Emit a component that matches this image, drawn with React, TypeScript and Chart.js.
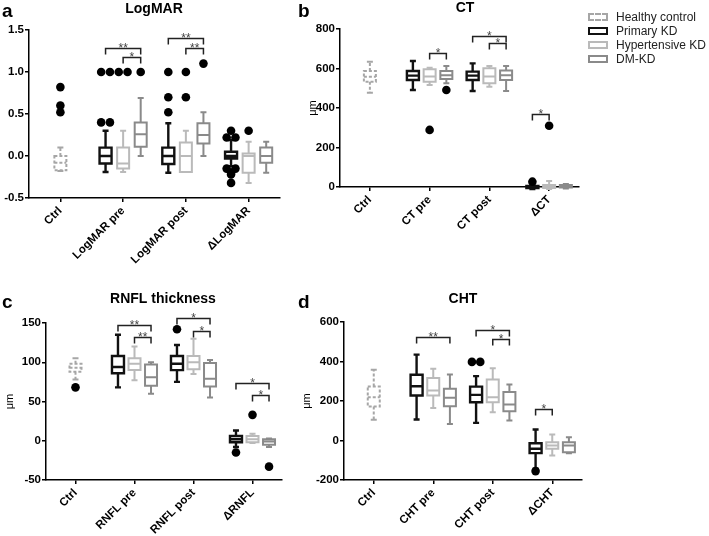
import React, { useEffect, useRef } from "react";
import { Chart, registerables } from "chart.js";

Chart.register(...registerables);

const FONT = "'Liberation Sans', Arial, Helvetica, sans-serif";
Chart.defaults.font.family = FONT;

const COLORS = { healthy: "#a6a6a6", primary: "#111111", hyper: "#bababa", dm: "#8a8a8a" };
const GROUP_OFFSET = { primary: -0.28, hyper: 0, dm: 0.28 };

// ---------- Panel a: LogMAR ----------
const A_CATEGORIES = ["Ctrl", "LogMAR pre", "LogMAR post", "\u0394LogMAR"];
const A_Y_TICKS = [-0.5, 0, 0.5, 1.0, 1.5];
// five-number summaries [min, q1, median, q3, max]
const A_HEALTHY = [-0.18, -0.17, -0.08, 0.0, 0.1];
const A_PRIMARY = [[-0.19, -0.09, 0, 0.1, 0.3], [-0.2, -0.095, 0, 0.1, 0.39], [-0.12, -0.03, 0, 0.05, 0.19]];
const A_HYPER = [[-0.19, -0.15, -0.09, 0.1, 0.3], [-0.19, -0.19, 0, 0.16, 0.3], [-0.32, -0.2, 0, 0.03, 0.17]];
const A_DM = [[0, 0.11, 0.26, 0.4, 0.69], [0, 0.15, 0.25, 0.39, 0.52], [-0.2, -0.08, 0, 0.1, 0.17]];
const A_OUT_HEALTHY = [0.82, 0.6, 0.52];
const A_OUT_PRIMARY = [[0.4, 0.4, 1, 1], [0.52, 0.7, 1], [0.3, 0.22, 0.22, -0.15, -0.15, -0.2, -0.22, -0.32]];
const A_OUT_HYPER = [[1, 1], [0.7, 1], [0.3]];
const A_OUT_DM = [[1], [1.1], []];
const A_BRACKETS = [
  { cat: 1, from: "primary", to: "dm", y: 1.29, label: "**" },
  { cat: 1, from: "hyper", to: "dm", y: 1.175, label: "*" },
  { cat: 2, from: "primary", to: "dm", y: 1.4, label: "**" },
  { cat: 2, from: "hyper", to: "dm", y: 1.28, label: "**" },
];

// ---------- Panel b: CT ----------
const B_CATEGORIES = ["Ctrl", "CT pre", "CT post", "\u0394CT"];
const B_Y_TICKS = [0, 200, 400, 600, 800];
const B_HEALTHY = [477, 533, 558, 587, 634];
const B_PRIMARY = [[491, 542, 564, 587, 638], [486, 542, 564, 584, 626], [-10, -5, 0, 5, 15]];
const B_HYPER = [[516, 533, 560, 596, 604], [508, 525, 560, 601, 613], [-10, -5, 0, 10, 30]];
const B_DM = [[525, 547, 566, 587, 613], [486, 542, 566, 590, 613], [-8, -3, 3, 10, 15]];
const B_OUT_HEALTHY: number[] = [];
const B_OUT_PRIMARY = [[], [], [27]];
const B_OUT_HYPER = [[289], [], [310]];
const B_OUT_DM = [[491], [], []];
const B_BRACKETS = [
  { cat: 1, from: "hyper", to: "dm", y: 677, label: "*" },
  { cat: 2, from: "primary", to: "dm", y: 766, label: "*" },
  { cat: 2, from: "hyper", to: "dm", y: 728, label: "*" },
  { cat: 3, from: "primary", to: "hyper", y: 370, label: "*" },
];

// ---------- Panel c: RNFL thickness ----------
const C_CATEGORIES = ["Ctrl", "RNFL pre", "RNFL post", "\u0394RNFL"];
const C_Y_TICKS = [-50, 0, 50, 100, 150];
const C_HEALTHY = [78, 88, 93, 98, 105];
const C_PRIMARY = [[68, 86, 94, 108, 135], [75, 90, 98, 108, 122], [-8, -2, 2, 6, 13]];
const C_HYPER = [[77, 90, 98, 105, 120], [85, 91, 100, 108, 130], [-3, -2, 2, 6, 9]];
const C_DM = [[60, 70, 81, 97, 100], [55, 69, 79, 99, 103], [-8, -5, -1, 2, 3]];
const C_OUT_HEALTHY = [68];
const C_OUT_PRIMARY = [[], [142], [-15]];
const C_OUT_HYPER = [[], [], [33]];
const C_OUT_DM = [[], [], [-33]];
const C_BRACKETS = [
  { cat: 1, from: "primary", to: "dm", y: 147, label: "**" },
  { cat: 1, from: "hyper", to: "dm", y: 132, label: "**" },
  { cat: 2, from: "primary", to: "dm", y: 157, label: "*" },
  { cat: 2, from: "hyper", to: "dm", y: 140, label: "*" },
  { cat: 3, from: "primary", to: "dm", y: 73, label: "*" },
  { cat: 3, from: "hyper", to: "dm", y: 58, label: "*" },
];

// ---------- Panel d: CHT ----------
const D_CATEGORIES = ["Ctrl", "CHT pre", "CHT post", "\u0394CHT"];
const D_Y_TICKS = [-200, 0, 200, 400, 600];
const D_HEALTHY = [105, 172, 219, 273, 358];
const D_PRIMARY = [[106, 228, 275, 333, 435], [89, 194, 231, 273, 326], [-143, -64, -42, -14, 56]];
const D_HYPER = [[164, 228, 253, 317, 363], [143, 194, 219, 309, 366], [-76, -42, -25, -9, 30]];
const D_DM = [[84, 174, 216, 262, 334], [101, 148, 182, 245, 283], [-64, -59, -25, -9, 17]];
const D_OUT_HEALTHY: number[] = [];
const D_OUT_PRIMARY = [[], [398, 398], [-155]];
const D_OUT_HYPER = [[], [], []];
const D_OUT_DM = [[], [], []];
const D_BRACKETS = [
  { cat: 1, from: "primary", to: "dm", y: 523, label: "**" },
  { cat: 2, from: "primary", to: "dm", y: 560, label: "*" },
  { cat: 2, from: "hyper", to: "dm", y: 515, label: "*" },
  { cat: 3, from: "primary", to: "hyper", y: 160, label: "*" },
];

const LEGEND = [
  { label: "Healthy control", color: COLORS.healthy, dashed: true, width: 2 },
  { label: "Primary KD", color: COLORS.primary, dashed: false, width: 2.5 },
  { label: "Hypertensive KD", color: COLORS.hyper, dashed: false, width: 2 },
  { label: "DM-KD", color: COLORS.dm, dashed: false, width: 2 },
];

const boxPlugin = {
  id: "boxes",
  beforeDatasetsDraw(chart: any, _a: any, opts: any) {
    const { ctx, scales } = chart;
    const xs = scales.x, ys = scales.y;
    for (const b of opts.items || []) {
      const cx = xs.getPixelForValue(b.x);
      const [mn, q1, md, q3, mx] = b.q.map((v: number) => ys.getPixelForValue(v));
      const hw = 6, cw = 3;
      ctx.save();
      ctx.strokeStyle = b.color;
      ctx.lineWidth = b.lw;
      ctx.setLineDash(b.dash || []);
      ctx.beginPath();
      ctx.rect(cx - hw, q3, 2 * hw, q1 - q3);
      ctx.moveTo(cx - hw, md); ctx.lineTo(cx + hw, md);
      ctx.moveTo(cx, q3); ctx.lineTo(cx, mx);
      ctx.moveTo(cx, q1); ctx.lineTo(cx, mn);
      ctx.stroke();
      ctx.setLineDash([]);
      ctx.beginPath();
      ctx.moveTo(cx - cw, mx); ctx.lineTo(cx + cw, mx);
      ctx.moveTo(cx - cw, mn); ctx.lineTo(cx + cw, mn);
      ctx.stroke();
      ctx.restore();
    }
  },
};

const bracketPlugin = {
  id: "brackets",
  afterDraw(chart: any, _a: any, opts: any) {
    const { ctx, scales } = chart;
    const xs = scales.x, ys = scales.y;
    ctx.save();
    ctx.strokeStyle = "#222";
    ctx.fillStyle = "#444";
    ctx.lineWidth = 1.5;
    ctx.font = `12px ${FONT}`;
    ctx.textAlign = "center";
    ctx.textBaseline = "alphabetic";
    for (const b of opts.items || []) {
      const x1 = xs.getPixelForValue(b.x1), x2 = xs.getPixelForValue(b.x2);
      const yy = Math.round(ys.getPixelForValue(b.y)) + 0.5;
      ctx.beginPath();
      ctx.moveTo(x1, yy + 6); ctx.lineTo(x1, yy); ctx.lineTo(x2, yy); ctx.lineTo(x2, yy + 6);
      ctx.stroke();
      ctx.fillText(b.label, (x1 + x2) / 2, yy + 3);
    }
    ctx.restore();
  },
};

const labelPlugin = {
  id: "panelLabels",
  afterDraw(chart: any, _a: any, opts: any) {
    const { ctx } = chart;
    ctx.save();
    ctx.fillStyle = "#000";
    ctx.textBaseline = "middle";
    ctx.font = `bold 19px ${FONT}`;
    ctx.textAlign = "left";
    ctx.fillText(opts.letter, opts.letterX, opts.letterY);
    ctx.font = `bold 14px ${FONT}`;
    ctx.textAlign = "center";
    ctx.fillText(opts.title, opts.titleX, opts.titleY);
    ctx.restore();
  },
};

function spread(values: number[], cx: number, out: { x: number; y: number }[]) {
  const counts: Record<string, number> = {};
  values.forEach((v) => (counts[v] = (counts[v] || 0) + 1));
  const seen: Record<string, number> = {};
  values.forEach((v) => {
    const n = counts[v];
    const k = seen[v] || 0;
    seen[v] = k + 1;
    out.push({ x: cx + (k - (n - 1) / 2) * 0.14, y: v });
  });
}

function buildChart(canvas: HTMLCanvasElement, p: any) {
  const items: any[] = [];
  items.push({ x: 0, q: p.healthy, color: COLORS.healthy, lw: 2, dash: [3, 2] });
  p.primary.forEach((q: number[], i: number) => items.push({ x: i + 1 + GROUP_OFFSET.primary, q, color: COLORS.primary, lw: 2.4 }));
  p.hyper.forEach((q: number[], i: number) => items.push({ x: i + 1 + GROUP_OFFSET.hyper, q, color: COLORS.hyper, lw: 2 }));
  p.dm.forEach((q: number[], i: number) => items.push({ x: i + 1 + GROUP_OFFSET.dm, q, color: COLORS.dm, lw: 2 }));

  const pts: { x: number; y: number }[] = [];
  spread(p.outHealthy, 0, pts);
  p.outPrimary.forEach((v: number[], i: number) => spread(v, i + 1 + GROUP_OFFSET.primary, pts));
  p.outHyper.forEach((v: number[], i: number) => spread(v, i + 1 + GROUP_OFFSET.hyper, pts));
  p.outDm.forEach((v: number[], i: number) => spread(v, i + 1 + GROUP_OFFSET.dm, pts));

  const brackets = p.brackets.map((b: any) => ({
    x1: b.cat + (GROUP_OFFSET as any)[b.from],
    x2: b.cat + (GROUP_OFFSET as any)[b.to],
    y: b.y,
    label: b.label,
  }));

  const tickFont = { family: FONT, size: 11.5, weight: "bold" as const };
  const yTicks: number[] = p.yTicks;

  return new Chart(canvas, {
    type: "scatter",
    data: {
      datasets: [
        {
          data: pts,
          pointRadius: 4.3,
          pointHoverRadius: 4.3,
          backgroundColor: "#000",
          borderWidth: 0,
          clip: false as any,
        },
      ],
    },
    options: {
      animation: false,
      responsive: false,
      maintainAspectRatio: false,
      events: [],
      layout: { padding: { top: p.padTop, left: 0, right: p.padRight, bottom: 0 } },
      plugins: {
        legend: { display: false },
        tooltip: { enabled: false },
        boxes: { items } as any,
        brackets: { items: brackets } as any,
        panelLabels: p.labels as any,
      } as any,
      scales: {
        x: {
          type: "linear",
          min: -0.5,
          max: 3.5,
          afterBuildTicks: (s: any) => {
            s.ticks = [0, 1, 2, 3].map((v) => ({ value: v }));
          },
          afterFit: (s: any) => {
            s.height = p.xHeight;
          },
          grid: { drawOnChartArea: false, drawTicks: true, tickLength: 4, color: "#000", lineWidth: 1.5 },
          border: { color: "#000", width: 1.5 },
          ticks: {
            autoSkip: false,
            minRotation: 45,
            maxRotation: 45,
            padding: 2,
            color: "#000",
            font: tickFont,
            callback: (v: any) => p.categories[v] ?? "",
          },
        },
        y: {
          type: "linear",
          min: yTicks[0],
          max: yTicks[yTicks.length - 1],
          afterBuildTicks: (s: any) => {
            s.ticks = yTicks.map((v) => ({ value: v }));
          },
          afterFit: (s: any) => {
            s.width = p.yWidth;
          },
          grid: { drawOnChartArea: false, drawTicks: true, tickLength: 4, color: "#000", lineWidth: 1.5 },
          border: { color: "#000", width: 1.5 },
          title: p.yTitle
            ? { display: true, text: p.yTitle, color: "#000", font: { family: FONT, size: 11 }, padding: { top: p.yTitlePad, bottom: 0 } }
            : { display: false },
          ticks: {
            padding: 1,
            color: "#000",
            font: tickFont,
            callback: (v: any) => (p.decimals ? Number(v).toFixed(p.decimals) : String(v)),
          },
        },
      },
    },
    plugins: [boxPlugin, bracketPlugin, labelPlugin],
  } as any);
}

const PANELS = [
  {
    left: 0, top: 0, w: 290, h: 290, padTop: 30, padRight: 10, yWidth: 29, xHeight: 92,
    categories: A_CATEGORIES, yTicks: A_Y_TICKS, decimals: 1, yTitle: "",
    healthy: A_HEALTHY, primary: A_PRIMARY, hyper: A_HYPER, dm: A_DM,
    outHealthy: A_OUT_HEALTHY, outPrimary: A_OUT_PRIMARY, outHyper: A_OUT_HYPER, outDm: A_OUT_DM,
    brackets: A_BRACKETS,
    labels: { letter: "a", letterX: 2, letterY: 12, title: "LogMAR", titleX: 154, titleY: 9 },
  },
  {
    left: 290, top: 0, w: 300, h: 290, padTop: 29, padRight: 11, yWidth: 50, xHeight: 103,
    categories: B_CATEGORIES, yTicks: B_Y_TICKS, decimals: 0, yTitle: "\u03bcm", yTitlePad: 16,
    healthy: B_HEALTHY, primary: B_PRIMARY, hyper: B_HYPER, dm: B_DM,
    outHealthy: B_OUT_HEALTHY, outPrimary: B_OUT_PRIMARY, outHyper: B_OUT_HYPER, outDm: B_OUT_DM,
    brackets: B_BRACKETS,
    labels: { letter: "b", letterX: 8, letterY: 12, title: "CT", titleX: 175, titleY: 8 },
  },
  {
    left: 0, top: 262, w: 290, h: 274, padTop: 61, padRight: 8, yWidth: 46, xHeight: 56,
    categories: C_CATEGORIES, yTicks: C_Y_TICKS, decimals: 0, yTitle: "\u03bcm", yTitlePad: 3,
    healthy: C_HEALTHY, primary: C_PRIMARY, hyper: C_HYPER, dm: C_DM,
    outHealthy: C_OUT_HEALTHY, outPrimary: C_OUT_PRIMARY, outHyper: C_OUT_HYPER, outDm: C_OUT_DM,
    brackets: C_BRACKETS,
    labels: { letter: "c", letterX: 2, letterY: 41, title: "RNFL thickness", titleX: 163, titleY: 37 },
  },
  {
    left: 290, top: 262, w: 300, h: 274, padTop: 60, padRight: 8, yWidth: 54, xHeight: 56,
    categories: D_CATEGORIES, yTicks: D_Y_TICKS, decimals: 0, yTitle: "\u03bcm", yTitlePad: 10,
    healthy: D_HEALTHY, primary: D_PRIMARY, hyper: D_HYPER, dm: D_DM,
    outHealthy: D_OUT_HEALTHY, outPrimary: D_OUT_PRIMARY, outHyper: D_OUT_HYPER, outDm: D_OUT_DM,
    brackets: D_BRACKETS,
    labels: { letter: "d", letterX: 8, letterY: 41, title: "CHT", titleX: 173, titleY: 37 },
  },
];

function Panel({ p }: { p: any }) {
  const ref = useRef<HTMLCanvasElement>(null);
  useEffect(() => {
    if (!ref.current) return;
    const chart = buildChart(ref.current, p);
    return () => chart.destroy();
  }, [p]);
  return (
    <canvas
      ref={ref}
      width={p.w}
      height={p.h}
      style={{ position: "absolute", left: p.left, top: p.top, width: p.w, height: p.h }}
    />
  );
}

export default function App() {
  return (
    <div style={{ position: "absolute", left: 0, top: 0, width: 709, height: 536, background: "#fff", overflow: "hidden" }}>
      {PANELS.map((p, i) => (
        <Panel key={i} p={p} />
      ))}
      <div style={{ position: "absolute", left: 588, top: 10, fontFamily: FONT, fontSize: 12, color: "#222" }}>
        {LEGEND.map((l, i) => (
          <div key={i} style={{ display: "flex", alignItems: "center", height: 14 }}>
            <span
              style={{
                display: "inline-block",
                width: 16,
                height: 4,
                border: `${l.width}px ${l.dashed ? "dashed" : "solid"} ${l.color}`,
                marginRight: 8,
              }}
            />
            <span>{l.label}</span>
          </div>
        ))}
      </div>
    </div>
  );
}
